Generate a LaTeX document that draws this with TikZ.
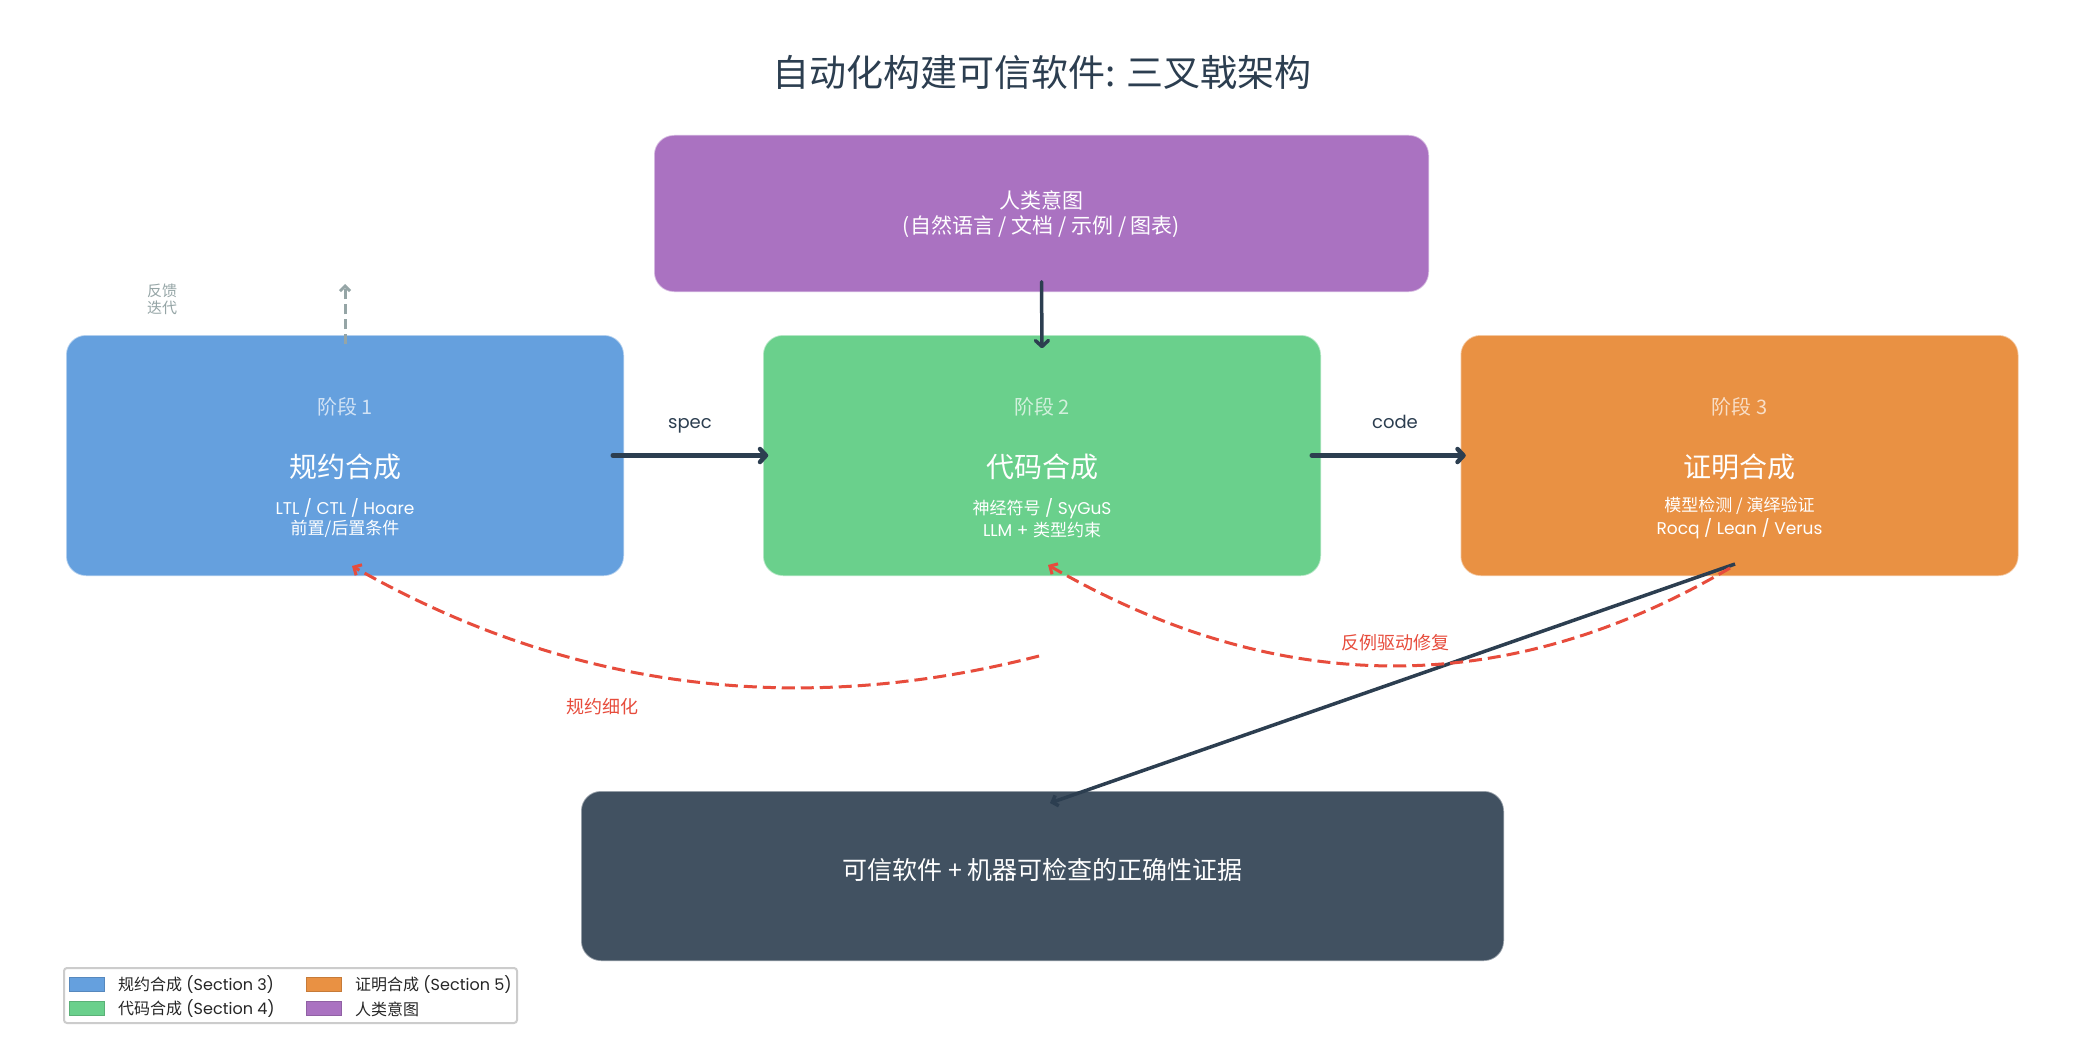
\documentclass[tikz,border=0pt]{standalone}
\usepackage{fontspec}
\setmainfont{Poppins}
\newfontfamily\cjk{Noto Sans CJK SC}
\usetikzlibrary{arrows.meta,calc}

\definecolor{specblue}{HTML}{65A0DE}
\definecolor{codegreen}{HTML}{6AD08C}
\definecolor{prooforange}{HTML}{E99143}
\definecolor{intentpurple}{HTML}{AA72C1}
\definecolor{resultslate}{HTML}{415161}
\definecolor{inkdark}{HTML}{2C3E50}
\definecolor{fbred}{HTML}{E74C3C}
\definecolor{fbgray}{HTML}{95A5A6}
\definecolor{legendedge}{HTML}{CCCCCC}

\newcommand\fsz[1]{\fontsize{#1}{#1}\selectfont}

\tikzset{
  stagebox/.style={rounded corners=20pt, minimum width=558pt, minimum height=241pt,
    draw=white, draw opacity=0.5, line width=1.5pt, inner sep=0pt},
  stagetag/.style={text=white, text opacity=0.7, font=\cjk\fsz{20}},
  stagename/.style={text=white, font=\cjk\fsz{28}},
  stagesub/.style={text=white, align=center, font=\fsz{17}, inner sep=0pt},
  flow/.style={draw=inkdark, line width=4.5pt, line cap=round,
    -{Straight Barb[length=6pt,width=13pt,line cap=round,line join=round]}},
  feed/.style={draw=fbred, line width=3pt, dash pattern=on 13pt off 6pt,
    -{Straight Barb[length=6pt,width=12pt]}},
  edgelabel/.style={text=inkdark, font=\fsz{18}},
  redlabel/.style={text=fbred, font=\cjk\fsz{18}},
  keypatch/.style={minimum width=35pt, minimum height=14pt, inner sep=0pt, line width=1pt},
  keytext/.style={anchor=west, text=black!85, font=\fsz{16}, inner sep=0pt},
}

\begin{document}
\begin{tikzpicture}[x=1pt,y=-1pt]
\useasboundingbox[fill=white] (0,0) rectangle (2085,1038);

% title
\node[text=inkdark, font=\cjk\fsz{37}] (title) at (1042,72) {自动化构建可信软件: 三叉戟架构};

% human intent
\node[fill=intentpurple, rounded corners=20pt, minimum width=775pt, minimum height=157pt,
      draw=white, draw opacity=0.5, line width=1.5pt] (intent) at (1041.5,213.5) {};
\node[text=white, align=center, font=\cjk\fsz{21}, inner sep=0pt] (intenttext) at (1041.5,214)
  {人类意图\\[4pt](自然语言 / 文档 / 示例 / 图表)};

% three stages
\node[stagebox, fill=specblue]    (spec)  at (345,455.5) {};
\node[stagebox, fill=codegreen]   (code)  at (1042,455.5) {};
\node[stagebox, fill=prooforange] (proof) at (1739.5,455.5) {};

\node[stagetag] (spectag) at (345,407) {阶段 1};
\node[stagename] (specname) at (345,467) {规约合成};
\node[stagesub] (specsub) at (345,518) {LTL / CTL / Hoare\\[2pt]{\cjk 前置/后置条件}};

\node[stagetag] (codetag) at (1042,407) {阶段 2};
\node[stagename] (codename) at (1042,467) {代码合成};
\node[stagesub] (codesub) at (1042,518) {{\cjk 神经符号} / SyGuS\\[2pt]LLM + {\cjk 类型约束}};

\node[stagetag] (prooftag) at (1739.5,407) {阶段 3};
\node[stagename] (proofname) at (1739.5,467) {证明合成};
\node[stagesub] (proofsub) at (1739.5,518) {{\cjk 模型检测 / 演绎验证}\\[2pt]Rocq / Lean / Verus};

% result
\node[fill=resultslate, rounded corners=20pt, minimum width=923pt, minimum height=170pt,
      draw=white, draw opacity=0.45, line width=1.5pt] (result) at (1042.5,876) {};
\node[text=white, font=\cjk\fsz{25}] (resulttext) at (1042.5,870) {可信软件 + 机器可检查的正确性证据};

% forward flow
\draw[flow] ([xshift=-12pt]spec.east) -- ([xshift=6pt]code.west);
\draw[flow] ([xshift=-10pt]code.east) -- ([xshift=6pt]proof.west);
\draw[flow, line width=3.5pt] ([yshift=11pt]intent.south) -- ([yshift=-14pt]code.north);
\node[edgelabel, anchor=base] (speclabel) at (690,428) {spec};
\node[edgelabel, anchor=base] (codelabel) at (1395,428) {code};

% proof to result
\coordinate (proofout) at (1735,564);
\coordinate (resultin) at (1050,803);
\draw[draw=inkdark, line width=3.5pt, -{Straight Barb[length=5pt,width=11pt]}] (proofout) -- (resultin);

% feedback iteration
\coordinate (fbtip) at (345,284);
\draw[draw=fbgray, line width=3pt, dash pattern=on 10pt off 5pt,
      -{Straight Barb[length=5pt,width=10pt]}] ([yshift=-10pt]spec.north) -- (fbtip);
\node[text=fbgray, align=center, font=\cjk\fsz{15}, inner sep=0pt] (fblabel) at (162,299) {反馈\\[2pt]迭代};

% spec refinement loop
\coordinate (refinestart) at (1039,656);
\coordinate (refinetip) at (352,566);
\draw[feed] (refinestart) .. controls (796.3,718.7) and (567.3,688.7) .. (refinetip);
\node[redlabel] (refinelabel) at (602,707) {规约细化};

% counterexample-guided repair loop
\coordinate (repairstart) at (1730,568);
\coordinate (repairtip) at (1048,565);
\draw[feed] (repairstart) .. controls (1506.7,699.3) and (1279.3,698.3) .. (repairtip);
\node[redlabel] (repairlabel) at (1395,643) {反例驱动修复};

% legend
\node[draw=legendedge, line width=2pt, fill=white, rounded corners=3pt,
      minimum width=453pt, minimum height=55pt, inner sep=0pt] (legend) at (290.5,995.5) {};
\node[keypatch, fill=specblue, draw=specblue!85!black] (key1) at (87,984.5) {};
\node[keypatch, fill=codegreen, draw=codegreen!85!black] (key2) at (87,1008.5) {};
\node[keypatch, fill=prooforange, draw=prooforange!85!black] (key3) at (323.5,984.5) {};
\node[keypatch, fill=intentpurple, draw=intentpurple!85!black] (key4) at (323.5,1008.5) {};
\node[keytext] (keytext1) at (118,985) {{\cjk 规约合成} (Section 3)};
\node[keytext] (keytext2) at (118,1009) {{\cjk 代码合成} (Section 4)};
\node[keytext] (keytext3) at (355,985) {{\cjk 证明合成} (Section 5)};
\node[keytext] (keytext4) at (355,1009) {{\cjk 人类意图}};
\end{tikzpicture}
\end{document}
